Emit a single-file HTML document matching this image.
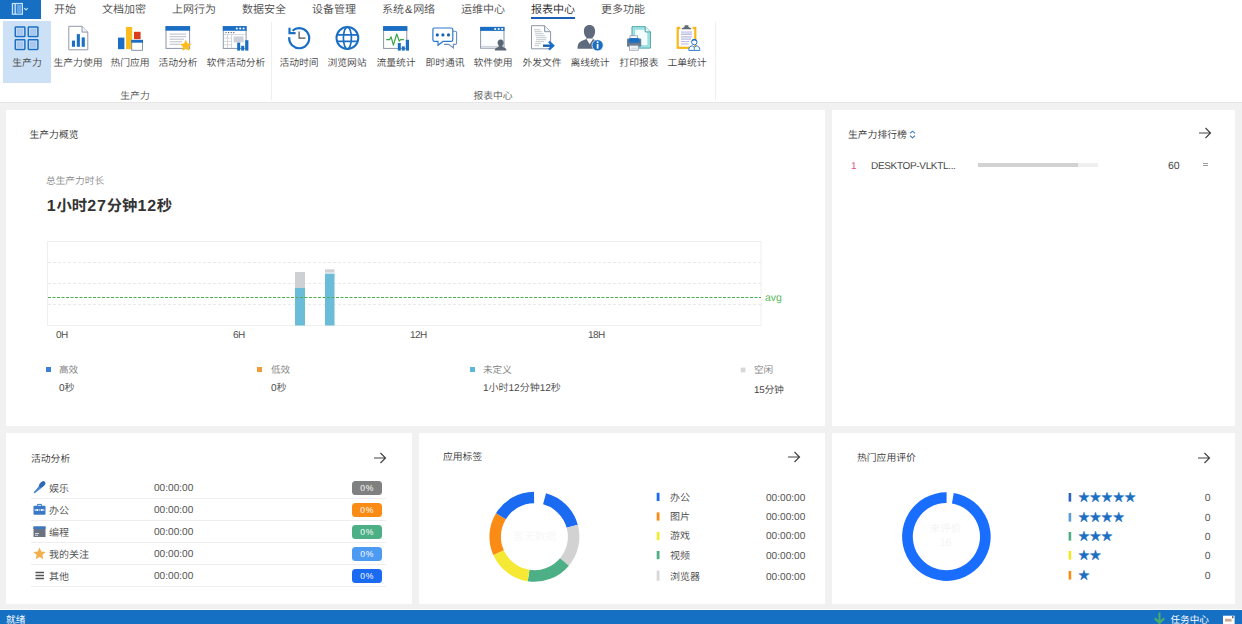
<!DOCTYPE html>
<html lang="zh-CN">
<head>
<meta charset="utf-8">
<title>生产力</title>
<style>
*{box-sizing:border-box;margin:0;padding:0}
html,body{width:1242px;height:624px;overflow:hidden}
body{position:relative;background:#f1f1f1;font-family:"Liberation Sans","Noto Sans CJK SC",sans-serif;font-size:9.8px;color:#444;line-height:1;text-rendering:geometricPrecision;font-weight:350}
.abs{position:absolute}
.t{position:absolute;white-space:nowrap;line-height:14px;height:14px}
/* ribbon */
#tabs{position:absolute;left:0;top:0;width:1242px;height:19px;background:#fff}
#appbtn{position:absolute;left:0;top:0;width:41px;height:18.6px;background:#166fc2}
.tab{position:absolute;top:2.2px;font-size:11px;line-height:16px;height:16px;color:#4a4a4a;white-space:nowrap}
#ribbon{position:absolute;left:0;top:19px;width:1242px;height:84px;background:#fff;border-bottom:1px solid #e6e6e6}
.rb{position:absolute;top:37.7px;width:80px;margin-left:-40px;text-align:center;font-size:9.8px;line-height:14px;color:#444;white-space:nowrap}
.ico{position:absolute;top:5px;width:28px;height:28px}
.grp{position:absolute;top:71px;width:80px;margin-left:-40px;text-align:center;font-size:9.8px;line-height:14px;color:#555}
.vsep{position:absolute;top:3px;width:1px;height:78px;background:#efefef}
/* panels */
.panel{position:absolute;background:#fff}
.ptitle{position:absolute;font-size:9.8px;line-height:14px;color:#333;white-space:nowrap}
.arrow{position:absolute;width:14px;height:12px}
.lg4{font-size:10px;color:#444;margin-top:1.7px}
.tm4{font-size:10.1px;color:#555;margin-top:1.7px;margin-left:1px}
.st5{left:246.4px;font-size:10.8px;color:#1b6ec2;letter-spacing:.8px;-webkit-text-stroke:.45px #1b6ec2;font-weight:400;font-family:"Noto Sans CJK SC",sans-serif}
.ct5{left:372.7px;font-size:10.4px;color:#555;margin-top:2.3px}
.bd{font-size:16px;letter-spacing:.75px;margin-left:.3px}
/* status */
#status{position:absolute;left:0;top:610px;width:1242px;height:14px;background:#156fc3;color:#fff}
</style>
</head>
<body>
<!-- TABS -->
<div id="tabs">
  <div id="appbtn">
    <svg class="abs" style="left:0;top:0" width="41" height="18" viewBox="0 0 41 18"><rect x="12.4" y="3.5" width="10" height="10.7" fill="#2f7fd0" stroke="#c4e4ff" stroke-width="1.2"/><path d="M15.2 3.5V14.2" stroke="#c4e4ff" stroke-width="1.3"/><path d="M17 6H21M17 8H21M17 10H21M17 12H21" stroke="#a9d2f6" stroke-width=".9"/><path d="M24.2 8.2L26 10 27.8 8.2" fill="none" stroke="#bfe2ff" stroke-width="1.2"/></svg>
  </div>
  <div class="tab" style="left:54px">开始</div>
  <div class="tab" style="left:102px">文档加密</div>
  <div class="tab" style="left:172px">上网行为</div>
  <div class="tab" style="left:242px">数据安全</div>
  <div class="tab" style="left:312px">设备管理</div>
  <div class="tab" style="left:382px">系统<span style="margin:0 .9px">&amp;</span>网络</div>
  <div class="tab" style="left:461px">运维中心</div>
  <div class="tab" style="left:531px;color:#222">报表中心</div>
  <div class="abs" style="left:531px;top:17px;width:44px;height:2px;background:#1a5fb4"></div>
  <div class="tab" style="left:601px">更多功能</div>
</div>
<!-- RIBBON -->
<div id="ribbon">
  <div class="abs" style="left:3px;top:2px;width:48px;height:62px;background:#cce1f6"></div>
  <div class="rb" style="left:27px">生产力</div>
  <div class="rb" style="left:78px">生产力使用</div>
  <div class="rb" style="left:130px">热门应用</div>
  <div class="rb" style="left:178px">活动分析</div>
  <div class="rb" style="left:236px">软件活动分析</div>
  <div class="rb" style="left:299px">活动时间</div>
  <div class="rb" style="left:347px">浏览网站</div>
  <div class="rb" style="left:396px">流量统计</div>
  <div class="rb" style="left:445px">即时通讯</div>
  <div class="rb" style="left:493px">软件使用</div>
  <div class="rb" style="left:542px">外发文件</div>
  <div class="rb" style="left:590px">离线统计</div>
  <div class="rb" style="left:639px">打印报表</div>
  <div class="rb" style="left:687px">工单统计</div>
  <div class="grp" style="left:135px">生产力</div>
  <div class="grp" style="left:493px">报表中心</div>
  <div class="vsep" style="left:271px"></div>
  <div class="vsep" style="left:715px"></div>
<svg class="abs" style="left:0;top:0" width="1242" height="83" viewBox="0 19 1242 83">
<!-- 1 生产力 grid -->
<g fill="none" stroke="#1a6fc4" stroke-width="1.5">
<rect x="15.3" y="27" width="9.6" height="9.6" rx=".6"/><rect x="28.3" y="27" width="9.6" height="9.6" rx=".6"/>
<rect x="15.3" y="39.8" width="9.6" height="9.6" rx=".6"/><rect x="28.3" y="39.8" width="9.6" height="9.6" rx=".6"/></g>
<g fill="#a9c7ee"><rect x="16.9" y="28.6" width="6.4" height="6.4"/><rect x="29.9" y="28.6" width="6.4" height="6.4"/><rect x="16.9" y="41.4" width="6.4" height="6.4"/><rect x="29.9" y="41.4" width="6.4" height="6.4"/></g>
<!-- 2 生产力使用 doc bars -->
<path d="M68.8 26.3H82L87.8 32.1V49.8H68.8Z" fill="#fff" stroke="#909aab" stroke-width="1"/>
<path d="M82 26.3V32.1H87.8" fill="#eef1f5" stroke="#909aab" stroke-width="1"/>
<rect x="71.9" y="40.6" width="3.1" height="6.2" fill="#1a6fc4"/><rect x="76.8" y="34.1" width="3.1" height="12.7" fill="#1a6fc4"/><rect x="81.7" y="37.4" width="3.1" height="9.4" fill="#1a6fc4"/>
<!-- 3 热门应用 -->
<rect x="118" y="37.6" width="6.4" height="11.6" fill="#1a6fc4"/>
<rect x="126" y="27" width="6.2" height="22.2" fill="#fbbc1c"/>
<rect x="134" y="31.8" width="6.6" height="7.4" fill="#dc3c1e"/>
<rect x="131.7" y="40.4" width="10.8" height="9.9" fill="#fff" stroke="#7d8aa0" stroke-width=".9"/>
<rect x="131.2" y="39.9" width="11.8" height="2.8" fill="#1a6fc4"/>
<!-- 4 活动分析 -->
<rect x="166" y="26.6" width="23.6" height="21.8" fill="#fff" stroke="#8a95a8" stroke-width="1"/>
<rect x="165.5" y="26.1" width="24.6" height="4.6" fill="#1a6fc4"/>
<path d="M169.6 34.1H186.1M169.6 36.7H186.1M169.6 39.2H184M169.6 41.8H182M169.6 44.3H180" stroke="#a4acbb" stroke-width=".8"/>
<path d="M185.8 39.8L187.6 43.4 191.6 44 188.7 46.8 189.4 50.8 185.8 48.9 182.2 50.8 182.9 46.8 180 44 184 43.4Z" fill="#fbbc1c"/>
<!-- 5 软件活动分析 -->
<rect x="223.3" y="26.6" width="22.8" height="21.8" fill="#fff" stroke="#8a95a8" stroke-width="1"/>
<rect x="222.8" y="26.1" width="23.8" height="4.7" fill="#1a6fc4"/>
<g fill="#fff"><circle cx="236.8" cy="28.5" r="1.05"/><circle cx="240.2" cy="28.5" r="1.05"/><circle cx="243.6" cy="28.5" r="1.05"/></g>
<g fill="#4a5568"><circle cx="226" cy="32.6" r=".7"/><circle cx="228.6" cy="32.6" r=".7"/><circle cx="231.2" cy="32.6" r=".7"/><circle cx="233.8" cy="32.6" r=".7"/></g>
<path d="M223.5 34.6H246M227.5 34.6V48M231.5 34.6V48M223.5 38H231.5M223.5 41.4H231.5M223.5 44.8H231.5" stroke="#c3c9d3" stroke-width=".7" fill="none"/>
<rect x="233.6" y="36.4" width="10" height="6" fill="#cdd2da"/>
<rect x="237.2" y="42.6" width="3" height="8" fill="#1a6fc4"/><rect x="241.2" y="45.8" width="3" height="4.8" fill="#1a6fc4"/><rect x="245.2" y="40.2" width="3.2" height="10.4" fill="#1a6fc4"/>
<!-- 6 活动时间 -->
<path d="M292.51 30.77A10 10 0 1 1 289.25 37.15" fill="none" stroke="#1a6fc4" stroke-width="2.2"/>
<path d="M289.5 27.8V33.1H295.6" fill="none" stroke="#1a6fc4" stroke-width="2.2"/>
<path d="M299.1 31.4V38.2H305.4" fill="none" stroke="#505050" stroke-width="1.2"/>
<!-- 7 浏览网站 -->
<g fill="none" stroke="#1a6fc4" stroke-width="2"><circle cx="347.4" cy="38" r="10.9"/><ellipse cx="347.4" cy="38" rx="4" ry="10.9" stroke-width="1.7"/><path d="M337.2 34.8H357.6M337.2 41.3H357.6" stroke-width="1.7"/></g>
<!-- 8 流量统计 -->
<rect x="383.6" y="26.6" width="23.2" height="21.8" fill="#fff" stroke="#8a95a8" stroke-width="1"/>
<rect x="383.1" y="26.1" width="24.2" height="4.8" fill="#1a6fc4"/>
<path d="M386.2 39.7H389.6L391.1 36.8 393.4 45.2 396.7 34 399.3 41.2 400.6 39.7H404" fill="none" stroke="#3aa648" stroke-width="1.2" stroke-linejoin="round"/>
<rect x="397.8" y="43" width="3" height="7.6" fill="#1a6fc4"/><rect x="401.8" y="46.4" width="3" height="4.2" fill="#1a6fc4"/><rect x="405.8" y="39.8" width="3.2" height="10.8" fill="#1a6fc4"/>
<!-- 9 即时通讯 -->
<path d="M452.8 31.2H455.2Q456.6 31.2 456.6 32.6V43Q456.6 44.4 455.2 44.4H453.4V48L448.6 44.4H444" fill="none" stroke="#6e8db8" stroke-width="1.1"/>
<path d="M434.4 28H451.2Q452.8 28 452.8 29.6V39.8Q452.8 41.4 451.2 41.4H443L438 45.2V41.4H434.4Q432.9 41.4 432.9 39.8V29.6Q432.9 28 434.4 28Z" fill="#fff" stroke="#2a7ad0" stroke-width="1.2"/>
<g fill="#1562b4"><circle cx="437.3" cy="34.9" r="1.6"/><circle cx="442.9" cy="34.9" r="1.6"/><circle cx="448.5" cy="34.9" r="1.6"/></g>
<!-- 10 软件使用 -->
<rect x="480.6" y="27.4" width="23.4" height="20.8" fill="#fbfcfe" stroke="#8a95a8" stroke-width="1"/>
<rect x="480.1" y="26.9" width="24.4" height="4" fill="#1a6fc4"/>
<g fill="#fff"><circle cx="495.2" cy="29" r="1.05"/><circle cx="498.7" cy="29" r="1.05"/><circle cx="502.2" cy="29" r="1.05"/></g>
<path d="M481 46.4H504" stroke="#c9d0da" stroke-width="1"/>
<path d="M500.6 39.6C502.6 39.6 503.6 41 503.6 42.8C503.6 44.2 503 45.2 502.3 45.8C502.3 46.6 502.6 47 503.4 47.3C505.4 48 506.4 48.6 506.4 50.6H494.8C494.8 48.6 495.8 48 497.8 47.3C498.6 47 498.9 46.6 498.9 45.8C498.2 45.2 497.6 44.2 497.6 42.8C497.6 41 498.6 39.6 500.6 39.6Z" fill="#5a6577"/>
<!-- 11 外发文件 -->
<path d="M531.5 25.7H544.6L550.6 31.7V48.8H531.5Z" fill="#fff" stroke="#8a95a8" stroke-width="1"/>
<path d="M544.6 25.7V31.7H550.6" fill="#eef1f5" stroke="#8a95a8" stroke-width="1"/>
<path d="M534 29.6H540.5M534.4 31.6H542M535 33.6H543.5M535.6 35.6H545M536 37.6H546.6M536 39.6H546M535.6 41.6H544M535 43.6H541M534.4 45.6H539" stroke="#cdd1d8" stroke-width="1.1"/>
<path d="M543 45.7H552.6" fill="none" stroke="#1260b4" stroke-width="2.4"/><path d="M548.9 41.7L553.2 45.7 548.9 49.7" fill="none" stroke="#1a6fc4" stroke-width="2.3"/>
<!-- 12 离线统计 -->
<g transform="translate(.9 0)"><path d="M588.6 25C592.2 25 594.2 27.6 594.2 31C594.2 33.6 593.4 36 591.8 37.6C591.6 38.6 592 39.2 593 39.6L596 40.8V48.7H576.6C576.6 44.6 577.6 42.2 580.6 41L584.2 39.6C585.2 39.2 585.6 38.6 585.4 37.6C583.8 36 583 33.6 583 31C583 27.6 585 25 588.6 25Z" fill="#5f6a7d"/>
<path d="M585.2 38.4L588.8 44.2 592.4 38.4Z" fill="#fff"/></g>
<circle cx="597.6" cy="45.3" r="5.6" fill="#1a6fc4" stroke="#fff" stroke-width=".7"/>
<circle cx="597.6" cy="42.2" r="1" fill="#fff"/><rect x="596.75" y="44" width="1.7" height="4.7" fill="#fff"/>
<!-- 13 打印报表 -->
<path d="M632 26.7H645.2L650.4 31.9V48.1H632Z" fill="#a6e6e8" stroke="#4aa3a8" stroke-width="1"/>
<path d="M634.5 29.2H644L647.9 33V45.7H634.5Z" fill="#f2fdfd" stroke="#6cc8cc" stroke-width=".6"/>
<path d="M645.2 26.7V31.9H650.4" fill="#e8f8f8" stroke="#4aa3a8" stroke-width="1"/>
<rect x="630" y="35.8" width="7.6" height="3.4" fill="#fff" stroke="#8a95a8" stroke-width=".8"/>
<rect x="627" y="38.4" width="14.2" height="8.4" rx="1.2" fill="#6b7a90"/>
<path d="M628.8 42.7V40Q628.8 37.9 631 37.9H637.4Q639.6 37.9 639.6 40V42.7Z" fill="#1a6fc4"/>
<rect x="629.4" y="45.3" width="8.8" height="4.9" fill="#fff" stroke="#8a95a8" stroke-width=".8"/>
<path d="M630.8 47H636.8M630.8 48.6H636.8" stroke="#c3c8d0" stroke-width=".7"/>
<!-- 14 工单统计 -->
<rect x="677.7" y="28" width="17.6" height="19.8" fill="#fff" stroke="#f9b81a" stroke-width="2.2"/>
<rect x="680.4" y="27" width="12.2" height="2.4" fill="#fff"/>
<path d="M681.8 29.2V28.2L684.6 27V25.2H688.4V27L691.2 28.2V29.2Z" fill="#5f6a7d"/>
<path d="M681 32H692M681 34.4H692M681 36.8H692M681 39.2H691M681 41.6H689.4M681 44H688.4" stroke="#b9a9dc" stroke-width=".9"/>
<path d="M681 33.2H692M681 38H691" stroke="#a9c8e8" stroke-width=".7"/>
<circle cx="694.3" cy="42.1" r="2.7" fill="#fff" stroke="#2a7ad0" stroke-width="1"/>
<path d="M691.7 41.4C691.8 39.6 693 39.1 694.3 39.1C695.6 39.1 696.8 39.6 696.9 41.4C696 40.6 695.2 40.4 694.3 40.4C693.4 40.4 692.6 40.6 691.7 41.4Z" fill="#1a6fc4"/>
<path d="M688.8 50.4V49.4C688.8 47.2 690.4 46 692.6 45.8L694.3 47.6 696 45.8C698.2 46 699.8 47.2 699.8 49.4V50.4Z" fill="#fff" stroke="#2a7ad0" stroke-width="1"/>
<path d="M694.3 47.6V50.2" stroke="#2a7ad0" stroke-width=".8"/>
</svg>
</div>

<!-- PANEL 1 -->
<div class="panel" id="p1" style="left:6px;top:110px;width:819px;height:316px">
  <div class="ptitle" style="left:23.5px;top:18.5px">生产力概览</div>
  <div class="ptitle" style="left:40px;top:65px;color:#8a8a8a;font-size:9.7px">总生产力时长</div>
  <div class="abs" style="left:40.5px;top:85px;font-size:15.3px;line-height:24px;font-weight:bold;color:#333;white-space:nowrap"><span class="bd">1</span>小时<span class="bd">27</span>分钟<span class="bd">12</span>秒</div>
  <svg class="abs" style="left:0;top:0" width="819" height="316" viewBox="6 110 819 316">
    <rect x="47.5" y="241.5" width="713.5" height="84" fill="#fff" stroke="#efefef" stroke-width="1"/>
    <path d="M48 262.5H761M48 283.5H761M48 304.5H761" stroke="#eaeaea" stroke-width="1" stroke-dasharray="3 2" fill="none"/>
    <rect x="295" y="272" width="10" height="16" fill="#cfd0d4"/>
    <rect x="295" y="288" width="10" height="37.5" fill="#6bbcd8"/>
    <rect x="325" y="269.3" width="9.5" height="3.3" fill="#cfd0d4"/>
    <rect x="325" y="273.6" width="9.5" height="51.9" fill="#6bbcd8"/>
    <path d="M48 297.5H761" stroke="#4caf50" stroke-width="1" stroke-dasharray="3 1.5" fill="none"/>
    <rect x="46" y="367" width="5" height="5" fill="#3a7fd9"/>
    <rect x="257" y="367" width="5" height="5" fill="#f29b38"/>
    <rect x="470" y="367" width="5" height="5" fill="#5db8d8"/>
    <rect x="740.8" y="367.6" width="4.6" height="4.8" fill="#d8d8d8"/>
  </svg>
  <div class="t" style="left:759px;top:181.2px;color:#5cb85c;font-size:10.5px">avg</div>
  <div class="t" style="left:50px;top:219.3px;font-size:10px;letter-spacing:-.5px;color:#505050">0H</div>
  <div class="t" style="left:227px;top:219.3px;font-size:10px;letter-spacing:-.5px;color:#505050">6H</div>
  <div class="t" style="left:404px;top:219.3px;font-size:10px;letter-spacing:-.5px;color:#505050">12H</div>
  <div class="t" style="left:582px;top:219.3px;font-size:10px;letter-spacing:-.5px;color:#505050">18H</div>
  <div class="t" style="left:53px;top:254.3px;font-size:9.6px;color:#7a7a7a">高效</div>
  <div class="t" style="left:53px;top:272px;color:#484848;font-size:10px">0秒</div>
  <div class="t" style="left:265px;top:254.3px;font-size:9.6px;color:#7a7a7a">低效</div>
  <div class="t" style="left:265px;top:272px;color:#484848;font-size:10px">0秒</div>
  <div class="t" style="left:477px;top:254.3px;font-size:9.6px;color:#7a7a7a">未定义</div>
  <div class="t" style="left:477px;top:272px;color:#484848;font-size:10px">1小时12分钟12秒</div>
  <div class="t" style="left:748px;top:254.3px;font-size:9.6px;color:#7a7a7a">空闲</div>
  <div class="t" style="left:748px;top:273.6px;color:#3c3c3c;font-size:9.8px;letter-spacing:-.2px">15分钟</div>
</div>

<!-- PANEL 2 -->
<div class="panel" id="p2" style="left:832px;top:110px;width:403px;height:316px">
  <div class="ptitle" style="left:16px;top:18.5px">生产力排行榜</div>
  <svg class="abs" style="left:77.3px;top:20.2px" width="7" height="9" viewBox="0 0 7 9"><path d="M1 3.4L3.5 1.2 6 3.4" fill="none" stroke="#3a7fd9" stroke-width="1.1"/><path d="M1 5.6L3.5 7.8 6 5.6" fill="none" stroke="#3a6fb5" stroke-width="1.1"/></svg>
  <svg class="arrow" style="left:366px;top:17px" viewBox="0 0 14 12"><path d="M1 6H12.5M7.5 1L12.5 6 7.5 11" fill="none" stroke="#444" stroke-width="1.2"/></svg>
  <div class="t" style="left:19px;top:49.5px;color:#e0507a;font-size:10px">1</div>
  <div class="t" style="left:39px;top:49.5px;color:#484848;font-size:10px;letter-spacing:-0.33px">DESKTOP-VLKTL...</div>
  <div class="abs" style="left:146px;top:53px;width:120px;height:4px;background:#efefef"></div>
  <div class="abs" style="left:146px;top:53px;width:100px;height:4px;background:#d2d2d2"></div>
  <div class="t" style="left:336px;top:48.5px;color:#484848;font-size:10.5px">60</div>
  <div class="abs" style="left:371px;top:53px;width:5px;height:3px;border-top:1px solid #999;border-bottom:1px solid #999"></div>
</div>

<!-- PANEL 3 -->
<div class="panel" id="p3" style="left:6px;top:433px;width:406px;height:171px">
  <div class="ptitle" style="left:25px;top:20.2px">活动分析</div>
  <svg class="arrow" style="left:367px;top:19px" viewBox="0 0 14 12"><path d="M1 6H12.5M7.5 1L12.5 6 7.5 11" fill="none" stroke="#444" stroke-width="1.2"/></svg>
  <style>
  .row3{position:absolute;left:25px;width:355px;height:22px;border-bottom:1px solid #eeeeee;margin-top:1px}
  .row3 .n{position:absolute;left:18px;top:5.6px;line-height:14px;font-size:10px;color:#484848}
  .row3 .tm{position:absolute;left:123px;top:5.2px;line-height:14px;font-size:10.1px;color:#555}
  .row3 .bd{position:absolute;left:321px;top:3.6px;width:30px;height:14px;border-radius:3.5px;color:#fff;font-size:8.6px;line-height:14px;text-align:center}
  .row3 svg{position:absolute;left:2px;top:4px;width:13px;height:13px}
  </style>
  <div class="row3" style="top:43px">
    <svg viewBox="0 0 13 13"><path d="M.9 12.1L.8 11.2 6.4 4.4 8.8 6.8 1.8 12.2z" fill="#4a86d0"/><ellipse cx="9.2" cy="3.4" rx="3.7" ry="2.4" transform="rotate(-45 9.2 3.4)" fill="#2f68b6"/></svg>
    <div class="n">娱乐</div><div class="tm">00:00:00</div><div class="bd" style="background:#808080">0%</div></div>
  <div class="row3" style="top:65px">
    <svg viewBox="0 0 13 13"><path d="M4.5 2.8V1.4h4v1.4" fill="none" stroke="#3a78c8" stroke-width="1"/><rect x="0.5" y="2.8" width="12" height="9" rx="1" fill="#3a78c8"/><path d="M1.5 7h2.5M5.5 7h2M9 7h2.5" stroke="#fff" stroke-width="1"/><rect x="3.6" y="6" width="1.4" height="2" fill="#fff"/><rect x="8" y="6" width="1.4" height="2" fill="#fff"/></svg>
    <div class="n">办公</div><div class="tm">00:00:00</div><div class="bd" style="background:#fa8c16">0%</div></div>
  <div class="row3" style="top:87px">
    <svg viewBox="0 0 13 13"><rect x="0.5" y="1.5" width="12" height="10.5" fill="#6b7380"/><rect x="0.5" y="1.5" width="12" height="2.5" fill="#3a78c8"/><path d="M2 8.5h4M2 10.3h3" stroke="#dfe3ea" stroke-width=".9"/></svg>
    <div class="n">编程</div><div class="tm">00:00:00</div><div class="bd" style="background:#4caf85">0%</div></div>
  <div class="row3" style="top:109px">
    <svg viewBox="0 0 13 13"><path d="M6.5 .6L8.3 4.6 12.6 5 9.4 7.9 10.3 12.2 6.5 10 2.7 12.2 3.6 7.9 .4 5 4.7 4.6z" fill="#f2b04e"/></svg>
    <div class="n">我的关注</div><div class="tm">00:00:00</div><div class="bd" style="background:#4d9af3">0%</div></div>
  <div class="row3" style="top:131px">
    <svg viewBox="0 0 13 13"><path d="M2.5 3.5h8.5M2.5 6.5h8.5M2.5 9.5h8.5" stroke="#555" stroke-width="1.3"/></svg>
    <div class="n">其他</div><div class="tm">00:00:00</div><div class="bd" style="background:#1a6bf2">0%</div></div>
</div>

<!-- PANEL 4 -->
<div class="panel" id="p4" style="left:419px;top:433px;width:406px;height:171px">
  <div class="ptitle" style="left:24px;top:18px">应用标签</div>
  <svg class="arrow" style="left:368px;top:18px" viewBox="0 0 14 12"><path d="M1 6H12.5M7.5 1L12.5 6 7.5 11" fill="none" stroke="#444" stroke-width="1.2"/></svg>
  <svg class="abs" style="left:0;top:0" width="406" height="171" viewBox="0 0 406 171">
<path d="M127.05 60.23A45 45 0 0 1 158.76 91.67L147.68 94.75A33.5 33.5 0 0 0 124.07 71.34Z" fill="#1a6bf2"/>
<path d="M158.76 91.67A45 45 0 0 1 149.87 132.63L141.06 125.23A33.5 33.5 0 0 0 147.68 94.75Z" fill="#d2d2d2"/>
<path d="M149.87 132.63A45 45 0 0 1 108.75 148.21L110.45 136.83A33.5 33.5 0 0 0 141.06 125.23Z" fill="#4caf85"/>
<path d="M108.75 148.21A45 45 0 0 1 74.29 122.00L84.80 117.33A33.5 33.5 0 0 0 110.45 136.83Z" fill="#f5e936"/>
<path d="M74.29 122.00A45 45 0 0 1 77.03 80.19L86.84 86.20A33.5 33.5 0 0 0 84.80 117.33Z" fill="#fa8c16"/>
<path d="M77.03 80.19A45 45 0 0 1 115.01 58.70L115.11 70.20A33.5 33.5 0 0 0 86.84 86.20Z" fill="#1a6bf2"/>
    <rect x="237.7" y="59.8" width="2.8" height="8.2" fill="#1a6bf2"/>
    <rect x="237.7" y="79.4" width="2.8" height="8.2" fill="#fa8c16"/>
    <rect x="237.7" y="99" width="2.8" height="8.2" fill="#f5e936"/>
    <rect x="237.7" y="118" width="2.8" height="8.2" fill="#4caf85"/>
    <rect x="237.7" y="137.6" width="2.8" height="10.2" fill="#d8d8d8"/>
  </svg>
  <div class="t" style="left:91px;top:96.7px;width:50px;text-align:center;color:#f7f7f7;font-size:10.7px">暂无数据</div>
  <div class="t lg4" style="left:251px;top:57px">办公</div><div class="t tm4" style="left:346px;top:57px">00:00:00</div>
  <div class="t lg4" style="left:251px;top:76px">图片</div><div class="t tm4" style="left:346px;top:76px">00:00:00</div>
  <div class="t lg4" style="left:251px;top:95px">游戏</div><div class="t tm4" style="left:346px;top:95px">00:00:00</div>
  <div class="t lg4" style="left:251px;top:115px">视频</div><div class="t tm4" style="left:346px;top:115px">00:00:00</div>
  <div class="t lg4" style="left:251px;top:136px">浏览器</div><div class="t tm4" style="left:346px;top:136px">00:00:00</div>
</div>

<!-- PANEL 5 -->
<div class="panel" id="p5" style="left:832px;top:433px;width:403px;height:171px">
  <div class="ptitle" style="left:25px;top:19.3px">热门应用评价</div>
  <svg class="arrow" style="left:365px;top:19px" viewBox="0 0 14 12"><path d="M1 6H12.5M7.5 1L12.5 6 7.5 11" fill="none" stroke="#444" stroke-width="1.2"/></svg>
  <svg class="abs" style="left:0;top:0" width="403" height="171" viewBox="0 0 403 171">
<path d="M121.71 59.91A44.3 44.3 0 1 1 114.63 59.30L114.58 70.00A33.6 33.6 0 1 0 119.95 70.46Z" fill="#1a6eff"/>
    <rect x="236.6" y="60.0" width="2.6" height="8.6" fill="#2b62c8"/>
    <rect x="236.6" y="80.0" width="2.6" height="8.6" fill="#5b9bd8"/>
    <rect x="236.6" y="99.0" width="2.6" height="8.6" fill="#4caf85"/>
    <rect x="236.6" y="118.0" width="2.6" height="8.6" fill="#f5e620"/>
    <rect x="236.6" y="138.0" width="2.6" height="8.6" fill="#fa8c16"/>
  </svg>
  <div class="t" style="left:93.6px;top:89.2px;width:40px;text-align:center;color:#f3f3f5;font-size:10.5px">未评价</div>
  <div class="t" style="left:93.6px;top:103px;width:40px;text-align:center;color:#f3f3f5;font-size:11px">16</div>
  <div class="t st5" style="top:57px">★★★★★</div><div class="t ct5" style="top:57px">0</div>
  <div class="t st5" style="top:77px">★★★★</div><div class="t ct5" style="top:77px">0</div>
  <div class="t st5" style="top:96px">★★★</div><div class="t ct5" style="top:96px">0</div>
  <div class="t st5" style="top:115px">★★</div><div class="t ct5" style="top:115px">0</div>
  <div class="t st5" style="top:135px">★</div><div class="t ct5" style="top:135px">0</div>
</div>

<!-- STATUS -->
<div class="abs" style="left:0;top:609px;width:1242px;height:1px;background:#fbfbfb"></div>
<div id="status">
  <div class="t" style="left:6px;top:4.4px;font-size:9.7px;line-height:14px;font-weight:400">就绪</div>
  <svg class="abs" style="left:1153px;top:1px" width="14" height="13" viewBox="0 0 14 13"><path d="M6.5 1.5V12M1.8 7.2L6.5 12 11.2 7.2" fill="none" stroke="#4bb066" stroke-width="2"/></svg>
  <div class="t" style="left:1170.5px;top:4.2px;font-size:9.6px;line-height:14px;font-weight:400">任务中心</div>
  <svg class="abs" style="left:1222px;top:5px" width="14" height="9" viewBox="0 0 14 9"><rect x="1" y=".7" width="11.6" height="9" fill="#fff"/><rect x="3" y="3.8" width="6.6" height="2.8" fill="#cdaa90"/><rect x="10.2" y="1.2" width="1.2" height="2" fill="#234"/></svg>
</div>
</body>
</html>
